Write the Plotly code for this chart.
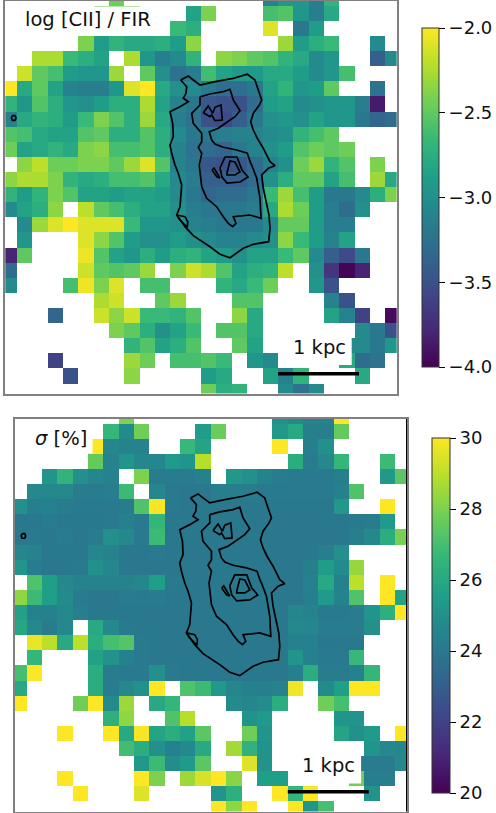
import plotly.graph_objects as go

W, H = 496, 813
N_ROWS, N_COLS = 27, 26

# Each row: (first column, values) runs; gaps are blank cells.
ratio_runs = [
 [(7,[-2.45]),(17,[-3.1,-2.95,-2.95,-3.15,-2.7])],
 [(6,[-2.45,-2.45,-2.45]),(12,[-2.85,-2.4]),(17,[-2.6,-2.55,-2.95,-3.15,-2.8])],
 [(11,[-2.65,-2.75]),(17,[-2.1]),(19,[-3.2,-2.9])],
 [(5,[-2.4,-2.9,-2.7,-2.8,-2.8,-2.75,-2.9,-2.35]),(18,[-2.3,-2.9,-2.75,-2.65]),(24,[-3.05])],
 [(2,[-2.25,-2.25,-2.65,-2.75,-2.85]),(8,[-2.25,-2.95,-3.15,-3.05,-2.7]),(14,[-2.35,-2.4,-2.5,-2.55,-2.7,-2.8,-3.05,-2.95]),(24,[-3.4,-3.05])],
 [(1,[-2.15,-2.5,-2.6,-2.9,-2.95,-2.95,-2.3]),(9,[-2.5,-3.0,-3.25,-3.15,-2.62,-2.85,-2.92,-2.92,-2.8,-2.8,-2.9,-3.05,-2.95,-2.6])],
 [(0,[-2.0,-2.8,-2.5,-2.85,-3.1,-3.15,-3.15,-2.95,-2.1,-2.0,-2.8,-3.0,-3.05,-3.18,-3.28,-3.28,-3.2,-2.85,-2.7,-2.95,-2.9,-2.5]),(24,[-3.25])],
 [(0,[-2.7,-2.95,-2.55,-2.75,-2.95,-3.0,-2.9,-2.75,-2.75,-2.25,-2.85,-3.1,-3.2,-3.45,-3.5,-3.5,-3.3,-2.9,-2.85,-3.05,-3.0,-2.95,-2.95,-3.15,-3.85])],
 [(0,[-3.1,-2.8,-2.7,-2.75,-2.9,-2.65,-2.4,-2.55,-2.75,-2.3,-2.8,-3.15,-3.25,-3.5,-3.55,-3.4,-3.2,-3.0,-2.95,-3.0,-2.85,-2.95,-2.95,-3.2,-3.35,-3.3])],
 [(0,[-2.55,-2.6,-2.8,-2.85,-2.85,-2.55,-2.5,-2.75,-2.75,-2.55,-2.75,-3.05,-3.2,-3.2,-3.15,-3.1,-3.1,-3.05,-3.0,-2.7,-2.6,-2.5])],
 [(0,[-2.45,-2.85,-2.8,-2.7,-2.8,-2.4,-2.35,-2.6,-2.6,-2.55,-2.75,-3.1,-3.25,-3.3,-3.35,-3.2,-3.1,-3.0,-2.9,-2.55,-2.45,-2.5,-2.45])],
 [(1,[-2.35,-2.2,-2.45,-2.45,-2.4,-2.4,-2.5,-2.3,-2.1,-2.55,-3.1,-3.2,-3.45,-3.5,-3.45,-3.3,-3.1,-3.0,-2.45,-2.3,-2.7,-2.55]),(24,[-2.4])],
 [(0,[-2.35,-2.25,-2.25,-2.4,-2.7,-2.8,-2.75,-2.6,-2.6,-2.55,-2.8,-3.05,-3.15,-3.4,-3.4,-3.4,-3.3,-3.0,-2.75,-2.5,-2.5,-2.85,-2.6]),(24,[-2.3,-2.8])],
 [(0,[-2.7,-2.9,-2.7,-2.4,-2.55,-2.85,-2.85,-2.9,-2.85,-2.85,-2.9,-3.05,-3.2,-3.35,-3.3,-3.3,-3.2,-2.65,-2.3,-2.6,-2.9,-3.2,-3.2,-3.05,-2.75,-2.4])],
 [(0,[-3.05,-2.85,-2.75,-2.35]),(5,[-2.2,-2.5,-2.6,-2.75,-2.85,-2.85,-3.0,-3.15,-3.2,-3.2,-3.2,-3.15,-2.8,-2.25,-2.45,-2.9,-3.15,-3.3,-3.0])],
 [(1,[-3.05,-2.3,-2.1,-2.0,-2.1,-2.1,-2.1,-2.65,-2.95,-2.95,-3.0,-3.1,-3.15,-3.2,-3.2,-3.2,-3.05,-2.48,-2.48,-2.9,-3.15,-3.15])],
 [(1,[-2.95]),(5,[-2.1,-2.35,-2.55,-2.9,-3.0,-3.0,-2.9,-3.0,-3.05,-3.1,-3.1,-3.05,-3.0,-2.35,-2.65,-2.9,-3.1,-2.85])],
 [(0,[-3.8,-2.5]),(5,[-2.05,-2.55,-2.85,-2.95,-2.75,-2.9,-2.75,-2.7,-2.85,-2.9,-3.0,-2.85,-2.85,-2.65,-2.5,-3.05,-3.4,-3.55,-3.2])],
 [(0,[-3.3]),(5,[-2.15,-2.5,-2.55,-2.5,-2.3]),(11,[-2.4,-2.15,-2.25,-2.55,-2.85,-2.75,-2.7,-2.2]),(20,[-3.0,-3.7,-3.98,-3.8])],
 [(0,[-3.05]),(4,[-2.6,-2.05,-2.4,-2.1]),(9,[-2.6,-2.6]),(14,[-2.7,-2.8,-2.65,-2.45]),(20,[-2.95,-3.5])],
 [(6,[-2.25,-2.15]),(10,[-2.5,-2.3]),(15,[-2.55,-2.55]),(21,[-3.1,-3.5])],
 [(3,[-3.35]),(6,[-2.15,-2.35,-2.15,-2.65,-2.65,-2.7,-2.55]),(15,[-2.35,-2.8]),(21,[-2.85,-3.1,-3.6]),(25,[-3.95])],
 [(7,[-2.4,-2.5,-2.75,-3.0,-2.85,-2.65]),(14,[-2.55,-2.55,-2.8]),(23,[-3.05,-3.2,-3.5])],
 [(8,[-2.7,-2.55,-2.85,-2.75,-2.55]),(15,[-2.5,-2.85]),(22,[-3.05,-3.05,-3.2,-2.95])],
 [(3,[-3.6]),(8,[-2.3,-2.45]),(11,[-2.6,-2.6,-2.55,-2.65]),(16,[-2.95,-3.05]),(22,[-2.8,-3.3,-3.25])],
 [(4,[-3.5]),(8,[-2.35]),(13,[-2.9,-2.8]),(17,[-2.85,-3.1,-2.7]),(23,[-2.8])],
 [(13,[-2.45,-2.75,-2.7]),(18,[-3.05,-3.25,-3.05])],
]

sigma_runs = [
 [(7,[28.0]),(17,[25.0,24.8,24.5,24.5,30.0])],
 [(6,[26.6,24.8,27.8]),(12,[25.5,27.7]),(17,[25.3,26.0,24.3,24.3,27.6])],
 [(5,[30.0,24.6,24.5,24.5]),(11,[26.7,25.8]),(17,[30.0]),(19,[24.3,25.0])],
 [(5,[27.6,24.5,25.2,24.6,24.6,25.4,25.2,28.9]),(18,[26.2,24.2,24.7,26.6]),(24,[26.8])],
 [(2,[25.2,26.5,25.0,24.6,24.5]),(8,[28.0,24.2,24.2,24.2,24.4]),(14,[25.3,25.0,24.5,24.2,24.1,24.1,24.1,24.3]),(24,[25.3,27.4])],
 [(1,[24.7,24.7,24.7,24.2,24.2,24.3,26.8]),(9,[24.6,24.1,24.0,24.0,24.3,24.3,24.2,24.1,24.1,24.1,24.1,24.1,24.4,27.2])],
 [(0,[25.0,24.3,24.4,24.2,24.1,24.1,24.1,24.2,27.2,29.9,24.1,24.0,24.0,24.0,24.0,24.0,24.0,24.0,24.0,24.0,24.0,25.3]),(24,[30.0])],
 [(0,[24.0,24.0,24.2,24.0,24.0,24.0,24.1,24.4,24.1,26.6,24.0,24.0,24.0,24.0,24.0,24.0,24.0,24.0,24.0,24.0,24.0,24.0,24.1,24.2,25.4])],
 [(0,[24.0,24.1,24.0,24.2,24.0,24.2,25.0,24.7,24.1,26.8,24.0,24.0,24.0,24.0,24.0,24.0,24.0,24.0,24.0,24.0,24.0,24.0,24.3,24.7,26.2,27.9])],
 [(0,[24.6,24.5,24.0,24.0,24.0,24.6,24.5,24.0,24.0,24.1,24.0,24.0,24.0,24.0,24.0,24.0,24.0,24.0,24.0,24.0,24.3,25.0])],
 [(0,[25.2,24.2,24.0,24.0,24.1,25.0,24.6,24.0,24.0,24.0,24.0,24.0,24.0,24.0,24.0,24.0,24.0,24.0,24.0,24.3,25.5,24.8,28.4])],
 [(1,[27.2,25.6,24.7,24.5,24.5,24.5,24.5,24.6,25.6,24.1,24.0,24.0,24.0,24.0,24.0,24.0,24.0,24.0,24.4,26.0,24.4,29.0]),(24,[30.0])],
 [(0,[28.3,26.8,25.6,24.8,24.2,24.0,24.0,24.2,24.1,24.2,24.0,24.0,24.0,24.0,24.0,24.0,24.0,24.0,24.0,24.3,25.4,24.5,27.2]),(24,[30.0,25.8])],
 [(0,[25.7,24.4,24.4,24.7,24.3,24.0,24.0,24.0,24.0,24.0,24.0,24.0,24.0,24.0,24.0,24.0,24.0,24.0,24.6,24.5,24.1,24.1,24.2,25.2,26.3,30.0])],
 [(0,[25.9,24.7,24.2,24.7]),(5,[26.0,24.7,24.1,24.0,24.0,24.0,24.0,24.0,24.0,24.0,24.0,24.0,24.0,24.7,24.6,24.2,24.2,24.2,25.0])],
 [(1,[29.7,29.0,26.0,29.0,26.2,27.0,27.3,24.1,24.0,24.0,24.0,24.0,24.0,24.0,24.0,24.0,24.0,24.4,24.4,24.0,24.0,24.0])],
 [(1,[26.6]),(5,[25.7,25.1,24.4,24.1,24.0,24.0,24.0,24.0,24.0,24.0,24.0,24.0,24.0,25.2,24.4,24.1,24.1,26.7])],
 [(0,[27.0,30.0]),(5,[26.2,24.2,24.1,24.1,25.0,24.1,24.0,24.0,24.0,24.0,24.0,24.0,24.0,24.3,26.2,24.2,24.2,24.4,26.6])],
 [(0,[26.0]),(5,[26.2,24.2,24.7,25.0,30.0]),(11,[27.2,26.8,25.3,24.6,24.4,24.3,24.5,29.8]),(20,[24.8,25.6,30.0,30.0])],
 [(0,[30.0]),(4,[27.8,30.0,24.8,28.5]),(9,[26.0,26.6]),(14,[24.8,24.6,24.9,26.2]),(20,[27.8,27.0])],
 [(6,[26.3,28.3]),(10,[27.2,28.9]),(15,[25.1,25.4]),(21,[25.2,25.2])],
 [(3,[30.0]),(6,[30.0,26.0,29.9,25.8,26.2,25.7,27.4]),(15,[27.8,25.2]),(21,[25.8,25.0,25.4]),(25,[30.0])],
 [(7,[26.9,26.2,25.0,24.4,24.7,26.0]),(14,[28.6,26.4,25.1]),(23,[25.2,24.7,24.6])],
 [(8,[25.3,26.8,24.9,25.4,27.4]),(15,[29.5,25.1]),(22,[24.2,24.2,24.2,24.7])],
 [(3,[30.0]),(8,[30.0,28.0]),(11,[28.5,29.4,30.0,28.2]),(16,[25.6,25.6]),(22,[27.8,24.3,24.3])],
 [(4,[30.0]),(8,[29.5]),(13,[25.2,26.3]),(17,[30.0,26.6,30.0]),(23,[25.1])],
 [(13,[30.0,28.3,30.0]),(18,[30.0,25.2,27.0])],
]

# Contours, in the map's own coordinate units (x grows right, y grows down)
outer_x = [180.7,188.3,193.3,200,215,233.3,247.3,255,258.3,261.7,259.3,253.3,250.7,253.3,257.3,263.3,270,275,268.3,261.7,263.3,266,269,270,268.7,253.3,243.3,230,220,210,201.7,193.3,185,178.3,176.7,180,180.7,181.7,178.3,175,171.7,170,173.3,172.7,170,180,188.3,183.3,186,186.7,180.7]
outer_y = [80,76,80,85,81.7,78.3,74.3,80,90,100,105,113.3,121.7,130,138.3,148.3,161.7,165.7,168.3,175,188.3,201.7,215,228.3,241.7,244.3,248.3,257.7,254.3,246.7,241,235.7,226.7,216.7,215,206.7,195,185,173.3,165,153.3,145,136.7,123.3,111.7,106.7,101.7,98.3,93.3,86.7,80]
notch_x = [176.7,185,187.7,187.3,180,176.7]
notch_y = [215,216.7,221.7,227.3,220,215]
middle_x = [200,210,223.3,230,233.3,240,235,228.3,218.3,209.3,211.7,215,223.3,236.7,247.3,250.7,251.7,256.7,260,261,250,233.3,236,232.7,228.3,223.3,216.7,206.7,201.7,200,199.3,201.7,198.3,201.7,201.7,193.3,191.7,200,200]
middle_y = [96.7,94,91.7,89.3,100,110.7,116.7,121.7,128.3,131.7,140,144,147.3,150,153.3,163.3,165,178.3,198.3,218.3,215,216.7,223.3,226.7,223.3,216.7,206.7,198.3,186.7,171.7,165,153.3,147.3,141.7,133.3,123.3,113.3,105,96.7]
upper_x = [203.3,208.3,212.7,215,221,222.3,215,211.7,210,203.3]
upper_y = [112.7,106,113.3,107.3,105,120,120.7,115,116.7,112.7]
ring_x = [220,225,237,242,248,240,227,222,220]
ring_y = [168,157,157,170,177,182,183,177,168]
core_x = [227,230,235,240,235,227,227]
core_y = [173,161,162,172,175,175,173]
blob_x = [212,214,220,217,212]
blob_y = [170,168,178,177,170]
speck_x = [12.4,15,16,15,12.4,11.4,12.4]
speck_y = [115.7,115.7,118,120.3,120.3,118,115.7]
contours = [(outer_x,outer_y),(notch_x,notch_y),(middle_x,middle_y),(upper_x,upper_y),
            (ring_x,ring_y),(core_x,core_y),(blob_x,blob_y),(speck_x,speck_y)]

ratio_ticks = [-4.0,-3.5,-3.0,-2.5,-2.0]
sigma_ticks = [20,22,24,26,28,30]
title_top = "log [CII] / FIR"
title_bottom = "<i>σ</i> [%]"
scale_label = "1 kpc"
scale_x = [278, 359]
scale_y = [373.7, 373.7]


def grid(runs):
    z = [[None] * N_COLS for _ in range(N_ROWS)]
    for r, row in enumerate(runs):
        for start, vals in row:
            for i, v in enumerate(vals):
                z[r][start + i] = v
    return z


def px(x):
    return x / W


def py(y):
    return 1 - y / H


FONT = "DejaVu Sans"
fig = go.Figure()


def add_panel(z, zmin, zmax, ticks, fmt, xa, ya, cb):
    fig.add_trace(go.Heatmap(
        z=z, x0=9.32, dx=15.36, y0=-1.75, dy=15.1, zmin=zmin, zmax=zmax,
        colorscale="Viridis", xaxis=xa, yaxis=ya, hoverongaps=False,
        colorbar=dict(
            x=px(cb[0]), xanchor="left", xpad=0, thickness=cb[1] - cb[0], thicknessmode="pixels",
            y=py(cb[3]), yanchor="bottom", ypad=0, len=(cb[3] - cb[2]) / H, lenmode="fraction",
            tickvals=ticks, tickformat=fmt, ticks="outside", ticklen=6, tickwidth=1, tickcolor="black",
            outlinecolor="#333", outlinewidth=1,
            tickfont=dict(family=FONT, size=18, color="#111"))))
    for cx, cy in contours:
        fig.add_trace(go.Scatter(x=cx, y=cy, mode="lines", xaxis=xa, yaxis=ya, showlegend=False,
                                 line=dict(color="black", width=1.7), hoverinfo="skip"))


add_panel(grid(ratio_runs), -4, -2, ratio_ticks, ".1f", "x", "y", (422, 439, 28, 367))
add_panel(grid(sigma_runs), 20, 30, sigma_ticks, "d", "x2", "y2", (432, 450, 438.3, 793))

axis = dict(showticklabels=False, ticks="", showgrid=False, zeroline=False, showline=True,
            mirror=True, linecolor="#808080", linewidth=1.5, range=[5.3, 396.7])
yaxis = dict(axis, range=[393.5, 1.1])
shapes = []
# white text backing boxes, then the scale bars
for xr, yr, bx, by in (("x", "y", (18, 150), (6.6, 33)), ("x", "y", (283, 351.7), (331, 365)),
                       ("x2", "y2", (14, 82.8), (5, 35.5)), ("x2", "y2", (283, 351.3), (331, 365.4))):
    shapes.append(dict(type="rect", xref=xr, yref=yr, x0=bx[0], x1=bx[1], y0=by[0], y1=by[1],
                       fillcolor="white", line=dict(width=0), layer="above"))
for xr, yr in (("x", "y"), ("x2", "y2")):
    shapes.append(dict(type="line", xref=xr, yref=yr, x0=scale_x[0], x1=scale_x[1], y0=scale_y[0], y1=scale_y[1],
                       line=dict(color="black", width=3.5), layer="above"))
# right edge of the lower frame is darker
shapes.append(dict(type="line", xref="paper", yref="paper", x0=px(406.5), x1=px(406.5), y0=py(419), y1=py(811.5),
                   line=dict(color="black", width=1), layer="above"))


def note(text, x, y):
    return dict(text=text, x=px(x), y=py(y), xref="paper", yref="paper", showarrow=False,
                xanchor="center", yanchor="middle", font=dict(family=FONT, size=19.5, color="#111"))


fig.update_layout(
    width=W, height=H, margin=dict(l=0, r=0, t=0, b=0), autosize=False,
    paper_bgcolor="white", plot_bgcolor="white", showlegend=False,
    xaxis=dict(axis, domain=[px(5.3), px(396.7)], anchor="y"),
    yaxis=dict(yaxis, domain=[py(393.5), py(1.1)], anchor="x"),
    xaxis2=dict(axis, domain=[px(15), px(406.5)], anchor="y2"),
    yaxis2=dict(yaxis, domain=[py(811.5), py(419)], anchor="x2"),
    shapes=shapes,
    annotations=[note(title_top, 87.5, 19.5), note(title_bottom, 60.5, 438),
                 note(scale_label, 319, 347), note(scale_label, 328.5, 765.5)],
)
fig.write_html("out.html", config={"displayModeBar": False},
               post_script="document.body.style.margin='0';")
